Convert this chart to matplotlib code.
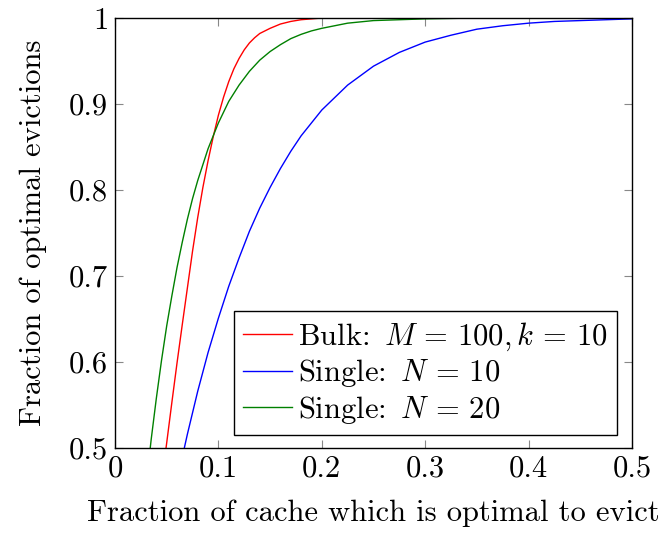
import matplotlib
matplotlib.use('Agg')
import matplotlib.pyplot as plt

plt.rcParams['mathtext.fontset'] = 'cm'
plt.rcParams['font.family'] = ['cmr10', 'DejaVu Serif']
plt.rcParams['axes.formatter.use_mathtext'] = True

# Bulk: M = 100, k = 10
bulk_x = [0.045, 0.05, 0.055, 0.06, 0.065, 0.07, 0.075, 0.08, 0.085, 0.09,
          0.095, 0.10, 0.105, 0.11, 0.115, 0.12, 0.125, 0.13, 0.135, 0.14,
          0.15, 0.16, 0.17, 0.18, 0.19, 0.20, 0.30, 0.40, 0.50]
bulk_y = [0.460, 0.506, 0.553, 0.599, 0.643, 0.686, 0.729, 0.768, 0.803, 0.834,
          0.862, 0.887, 0.908, 0.926, 0.941, 0.953, 0.963, 0.971, 0.977, 0.982,
          0.988, 0.993, 0.996, 0.998, 0.999, 1.000, 1.000, 1.000, 1.000]

# Single: N = 10
single10_x = [0.06, 0.065, 0.07, 0.075, 0.08, 0.09, 0.10, 0.11, 0.12, 0.13, 0.14, 0.15,
              0.16, 0.17, 0.18, 0.19, 0.20, 0.225, 0.25, 0.275, 0.30, 0.325,
              0.35, 0.375, 0.40, 0.425, 0.45, 0.475, 0.50]
single10_y = [0.461, 0.489, 0.516, 0.541, 0.566, 0.611, 0.651, 0.688, 0.721, 0.752, 0.779, 0.803,
              0.825, 0.845, 0.863, 0.878, 0.893, 0.922, 0.944, 0.960, 0.972, 0.980,
              0.987, 0.991, 0.994, 0.996, 0.997, 0.998, 0.999]

# Single: N = 20
single20_x = [0.03, 0.035, 0.04, 0.045, 0.05, 0.055, 0.06, 0.065, 0.07, 0.075, 0.08, 0.09,
              0.10, 0.11, 0.12, 0.13, 0.14, 0.15, 0.16, 0.17, 0.18, 0.19,
              0.20, 0.225, 0.25, 0.275, 0.30, 0.35, 0.40, 0.50]
single20_y = [0.456, 0.510, 0.558, 0.602, 0.642, 0.677, 0.710, 0.739, 0.766, 0.790, 0.811, 0.848,
              0.878, 0.903, 0.922, 0.938, 0.951, 0.961, 0.969, 0.976, 0.981, 0.985,
              0.988, 0.994, 0.997, 0.998, 0.999, 1.000, 1.000, 1.000]

xticks = [0, 0.1, 0.2, 0.3, 0.4, 0.5]
xtick_labels = ['0', '0.1', '0.2', '0.3', '0.4', '0.5']
yticks = [0.5, 0.6, 0.7, 0.8, 0.9, 1.0]
ytick_labels = ['0.5', '0.6', '0.7', '0.8', '0.9', '1']

fs = 22

fig = plt.figure(figsize=(6.66, 5.34), dpi=100)
ax = fig.add_axes([115 / 666, 1 - 448 / 534, 517 / 666, 430 / 534])

ax.plot(bulk_x, bulk_y, color=(1, 0, 0), lw=1.0, label=r'Bulk: $\,M\,=\,100, k\,=\,10$')
ax.plot(single10_x, single10_y, color=(0, 0, 1), lw=1.0, label=r'Single: $\,N\,=\,10$')
ax.plot(single20_x, single20_y, color=(0, 0.5, 0), lw=1.0, label=r'Single: $\,N\,=\,20$')

ax.set_xlim(0, 0.5)
ax.set_ylim(0.5, 1.0)
ax.set_xticks(xticks)
ax.set_xticklabels(xtick_labels, fontsize=fs)
ax.set_yticks(yticks)
ax.set_yticklabels(ytick_labels, fontsize=fs)
ax.tick_params(direction='in', length=6, width=0.8, color='#888888',
               top=True, right=True, pad=5)
for s in ax.spines.values():
    s.set_linewidth(1.0)

ax.set_xlabel('Fraction of cache which is optimal to evict', fontsize=fs, labelpad=12)
ax.set_ylabel('Fraction of optimal evictions', fontsize=fs, labelpad=16)

leg = ax.legend(loc='lower right', bbox_to_anchor=(0.971, 0.03), borderaxespad=0,
                fontsize=fs, fancybox=False, framealpha=1, edgecolor='black',
                handlelength=1.6, handletextpad=0.2, labelspacing=0.15,
                borderpad=0.3)
leg.get_frame().set_linewidth(1.0)

fig.savefig('out.png', dpi=100)
